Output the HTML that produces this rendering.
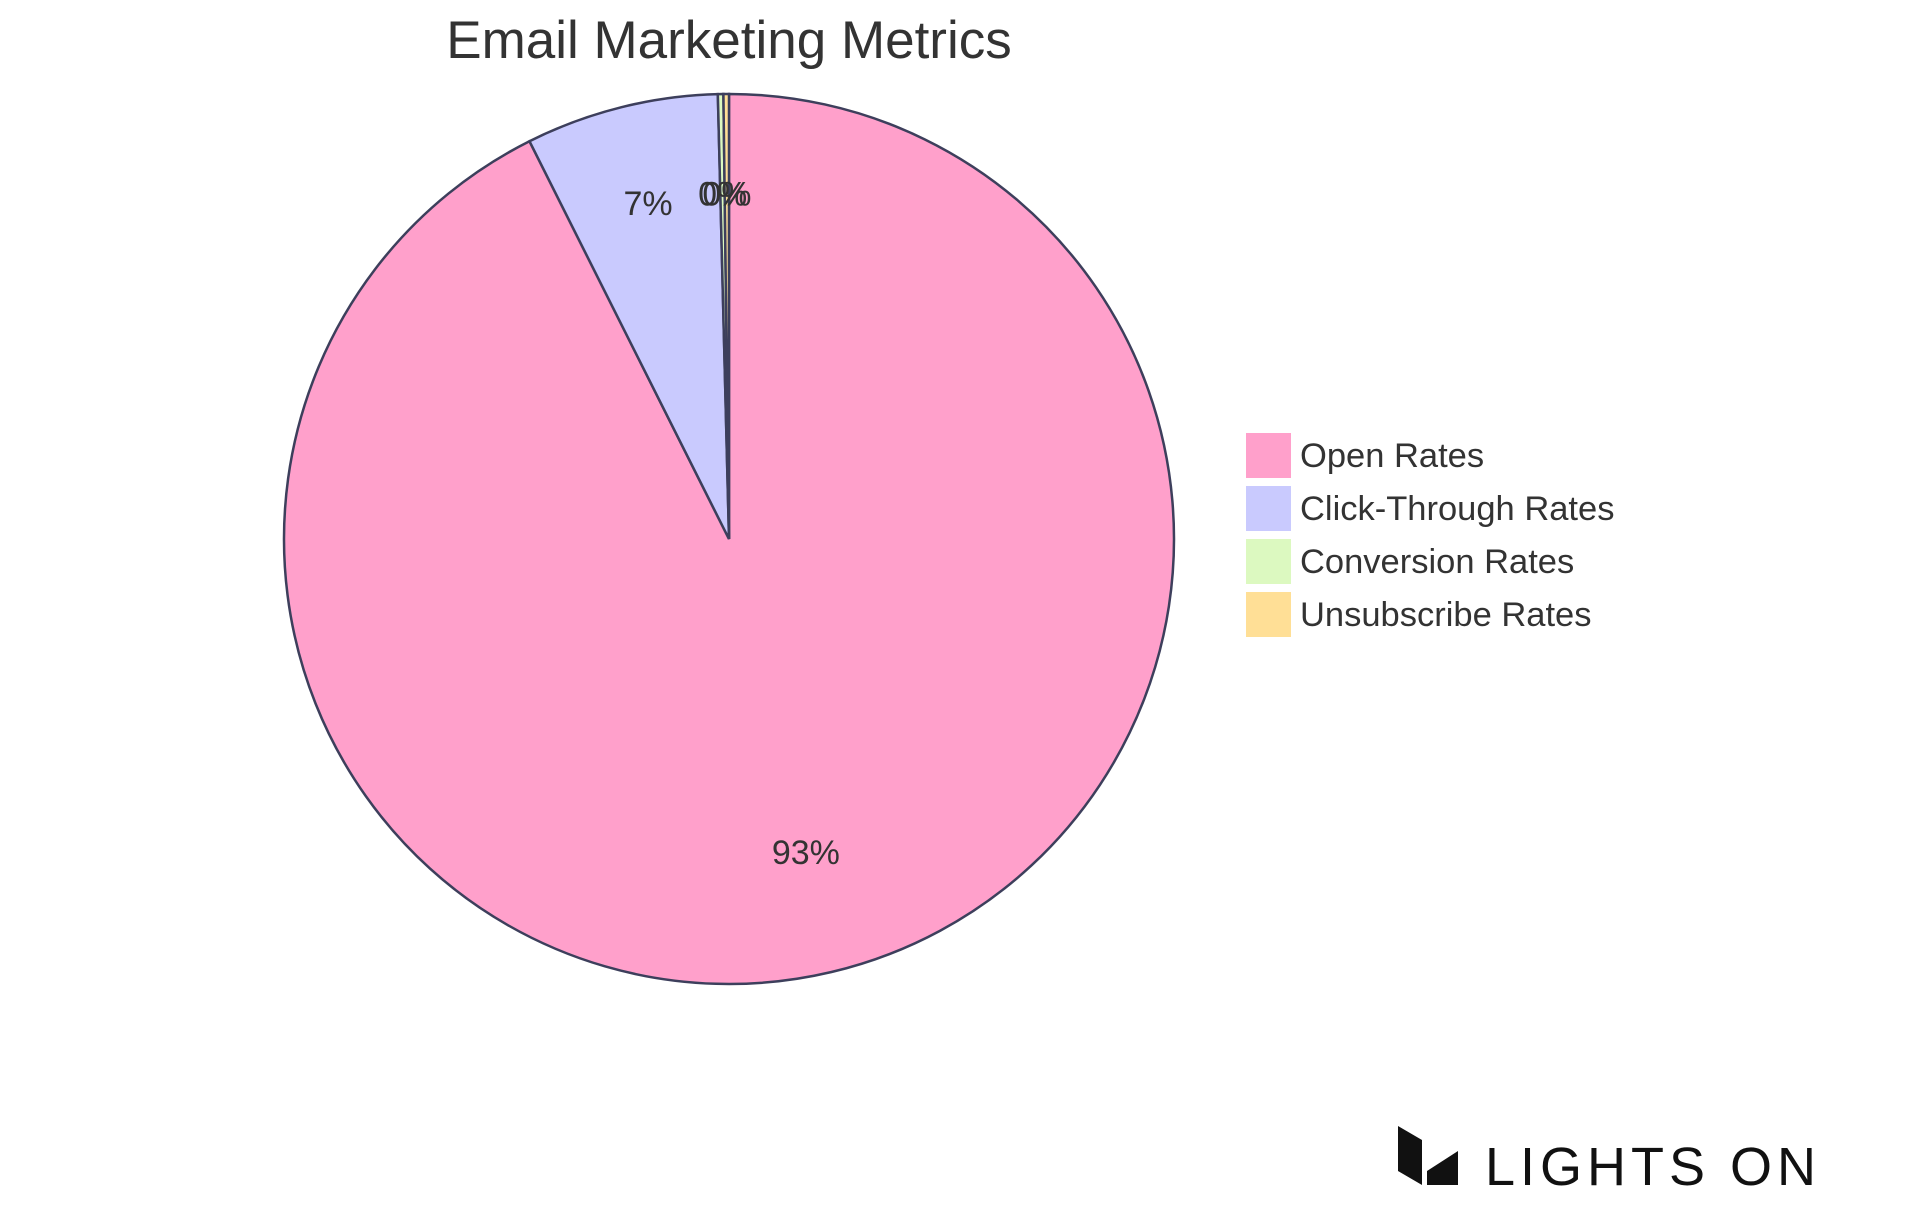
<!DOCTYPE html>
<html><head><meta charset="utf-8"><style>
html,body{margin:0;padding:0;background:#fff;}
svg{display:block;font-family:"Liberation Sans",sans-serif;}
</style></head><body>
<svg id="chart" width="1920" height="1215" viewBox="0 0 1920 1215">
<text x="729" y="58" text-anchor="middle" font-size="53" fill="#333">Email Marketing Metrics</text>
<g id="slices"></g>
<g id="labels"></g>
<g id="legend"></g>
<g>
<polygon points="1398,1126 1422,1140 1422,1185 1398,1171" fill="#111"/>
<polygon points="1427,1171 1458,1151 1458,1185 1427,1185" fill="#111"/>
<text x="1485" y="1185" font-size="54" fill="#111" letter-spacing="5">LIGHTS ON</text>
</g>
</svg>
<script>
const categories = ["Open Rates","Click-Through Rates","Conversion Rates","Unsubscribe Rates"];
const values = [92.6, 7.0, 0.2, 0.2];
const colors = ["#FFA0CB","#C9CAFE","#DCF9C0","#FFDF96"];
const NS="http://www.w3.org/2000/svg";
const cx=729, cy=539, r=445;
const total=values.reduce((a,b)=>a+b,0);
const sl=document.getElementById('slices'), lb=document.getElementById('labels'), lg=document.getElementById('legend');
function pt(a,rr){return [cx+rr*Math.sin(a), cy-rr*Math.cos(a)];}
let start=0;
values.forEach((v,i)=>{
  const ang=v/total*2*Math.PI, end=start+ang;
  const p1=pt(start,r), p2=pt(end,r);
  const path=document.createElementNS(NS,'path');
  path.setAttribute('d',`M${cx},${cy} L${p1[0]},${p1[1]} A${r},${r} 0 ${ang>Math.PI?1:0} 1 ${p2[0]},${p2[1]} Z`);
  path.setAttribute('fill',colors[i]);
  path.setAttribute('stroke','#3d3f5c');
  path.setAttribute('stroke-width','2.5');
  
  
  sl.appendChild(path);
  const mid=(start+end)/2, lp=pt(mid,r*0.75);
  const t=document.createElementNS(NS,'text');
  t.setAttribute('x',lp[0]); t.setAttribute('y',lp[1]);
  t.setAttribute('text-anchor','middle'); t.setAttribute('font-size','34'); t.setAttribute('fill','#333');
  t.textContent=Math.round(v/total*100)+'%';
  
  
  lb.appendChild(t);
  const ry=433+i*53;
  const rect=document.createElementNS(NS,'rect');
  rect.setAttribute('x',1246); rect.setAttribute('y',ry); rect.setAttribute('width',45); rect.setAttribute('height',45);
  rect.setAttribute('fill',colors[i]);
  
  
  lg.appendChild(rect);
  const lt=document.createElementNS(NS,'text');
  lt.setAttribute('x',1300); lt.setAttribute('y',ry+34); lt.setAttribute('font-size','34.5'); lt.setAttribute('fill','#333');
  lt.textContent=categories[i];
  
  
  lg.appendChild(lt);
  start=end;
});
</script>
</body></html>
